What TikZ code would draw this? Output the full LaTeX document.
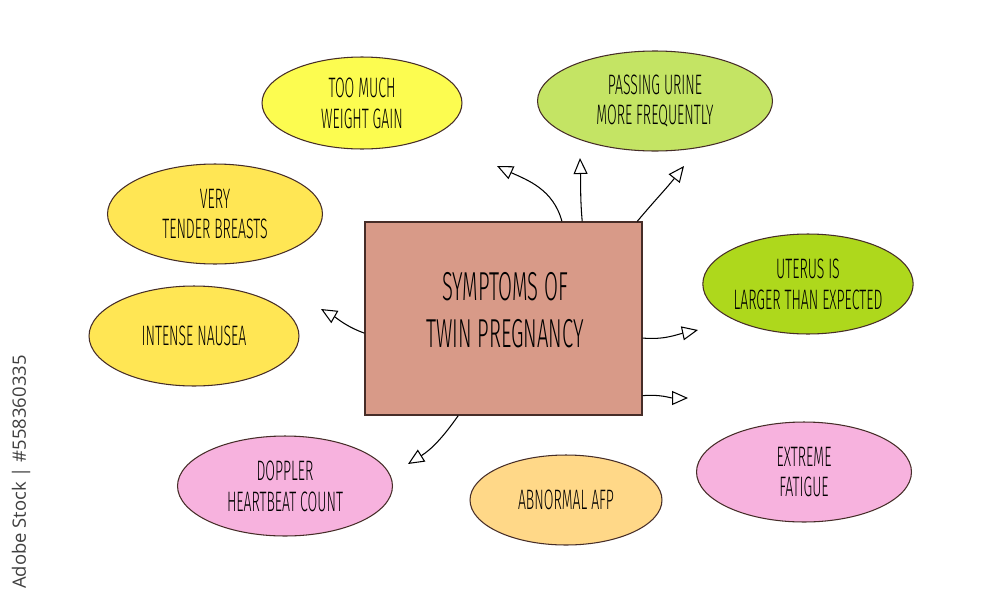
\documentclass[tikz,border=0pt]{standalone}
\usepackage{fontspec}
\setmainfont{Fira Sans Light}[FakeStretch=0.5]
\newfontfamily\stockfont{Open Sans}
\usetikzlibrary{shapes.geometric,arrows.meta}
\definecolor{twline}{RGB}{70,45,40}
\definecolor{twbox}{RGB}{216,154,136}
\definecolor{twyellow}{RGB}{252,252,80}
\definecolor{twgold}{RGB}{255,230,84}
\definecolor{twgreen}{RGB}{196,228,100}
\definecolor{twlime}{RGB}{174,216,28}
\definecolor{twpink}{RGB}{247,178,222}
\definecolor{twsand}{RGB}{255,216,136}

\tikzset{
  blob/.style={ellipse, draw=twline, line width=0.6pt, inner sep=0pt,
    align=center, font=\fontsize{16}{17.5}\selectfont},
  pointer/.style={draw=black, line width=0.6pt,
    -{Triangle[open, length=3.2mm, width=2.8mm]}}
}

\begin{document}
\begin{tikzpicture}[x=0.02cm, y=0.02cm]
    \useasboundingbox (0,0) rectangle (1000,600);
    \fill[white] (0,0) rectangle (1000,600);

    % centre
    \node[draw=twline, fill=twbox, line width=0.8pt, minimum width=5.54cm,
      minimum height=3.86cm] (main) at (503.5,281.5) {};
    \node[align=center, font=\fontsize{23}{27}\selectfont] (title)
      at (505,290) {SYMPTOMS OF\\TWIN PREGNANCY};

    % symptoms
    \node[blob, fill=twyellow, minimum width=4.0cm, minimum height=1.84cm]
      (weight) at (362,497) {TOO MUCH\\WEIGHT GAIN};
    \node[blob, fill=twgreen, minimum width=4.7cm, minimum height=2.0cm]
      (urine) at (655,499) {PASSING URINE\\MORE FREQUENTLY};
    \node[blob, fill=twgold, minimum width=4.3cm, minimum height=2.0cm]
      (breasts) at (215,386) {VERY\\TENDER BREASTS};
    \node[blob, fill=twlime, minimum width=4.2cm, minimum height=2.0cm]
      (uterus) at (808,316) {UTERUS IS\\LARGER THAN EXPECTED};
    \node[blob, fill=twgold, minimum width=4.2cm, minimum height=2.0cm]
      (nausea) at (194,264) {INTENSE NAUSEA};
    \node[blob, fill=twpink, minimum width=4.3cm, minimum height=2.0cm]
      (doppler) at (285,114) {DOPPLER\\HEARTBEAT COUNT};
    \node[blob, fill=twsand, minimum width=3.84cm, minimum height=1.8cm]
      (afp) at (566,100) {ABNORMAL AFP};
    \node[blob, fill=twpink, minimum width=4.3cm, minimum height=2.0cm]
      (fatigue) at (804,128) {EXTREME\\FATIGUE};

    % arrow ends
    \coordinate (t1) at (497,434);
    \coordinate (t2) at (580,442);
    \coordinate (t3) at (684,434);
    \coordinate (t4) at (321,291);
    \coordinate (t5) at (698,270);
    \coordinate (t6) at (688,202);
    \coordinate (t7) at (408,136);

    \draw[pointer] (main.59) to[out=105, in=-25] (t1);
    \draw[pointer] (main.51) to[out=95, in=-88] (t2);
    \draw[pointer] (main.36) to[out=50, in=-128] (t3);
    \draw[pointer] (main.186) to[out=160, in=-30] (t4);
    \draw[pointer] (main.-8) to[out=-5, in=192] (t5);
    \draw[pointer] (main.-29) to[out=5, in=180] (t6);
    \draw[pointer] (main.-115) to[out=-125, in=32] (t7);

    \node[rotate=90, text=black!75, font=\stockfont\fontsize{10.5}{12}\selectfont]
      (stock) at (21,128) {Adobe Stock | \#558360335};
  \end{tikzpicture}
\end{document}
